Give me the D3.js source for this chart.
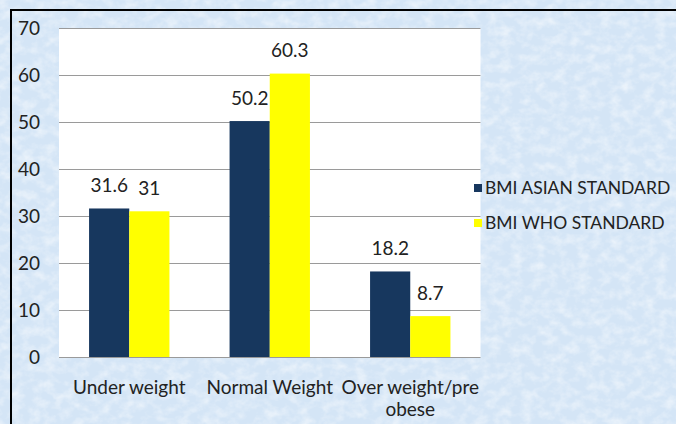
<!DOCTYPE html>
<html>
<head>
<meta charset="utf-8">
<script src="https://cdn.jsdelivr.net/npm/d3@7/dist/d3.min.js"></script>
<style>
  html, body { margin: 0; padding: 0; background: #ffffff; }
  svg { display: block; }
  text { font-family: Lato, "Open Sans", sans-serif; fill: #222222; }
</style>
</head>
<body>
<svg id="chart" width="676" height="424"></svg>
<script>
// BMI classification under two standards (percent of respondents)
const categories = [["Under weight"], ["Normal Weight"], ["Over weight/pre", "obese"]];
const seriesNames = ["BMI ASIAN STANDARD", "BMI WHO STANDARD"];
const asianValues = [31.6, 50.2, 18.2];
const whoValues = [31, 60.3, 8.7];
const yTicks = [0, 10, 20, 30, 40, 50, 60, 70];

const colors = ["#17375e", "#ffff00"];
const svg = d3.select("#chart");
const W = 676, H = 424;

// Mottled light-blue paper background
const defs = svg.append("defs");
const f = defs.append("filter").attr("id", "mottle")
  .attr("x", 0).attr("y", 0).attr("width", "100%").attr("height", "100%");
f.append("feTurbulence").attr("type", "fractalNoise")
  .attr("baseFrequency", "0.09 0.11").attr("numOctaves", 3).attr("seed", 11);
f.append("feColorMatrix").attr("type", "matrix")
  .attr("values", "0 0 0 0 1  0 0 0 0 1  0 0 0 0 1  1.8 0 0 0 -0.7");

svg.append("rect").attr("x", 0).attr("y", 0).attr("width", W).attr("height", H)
  .attr("fill", "#d4e5f6");
svg.append("rect").attr("x", 0).attr("y", 0).attr("width", W).attr("height", H)
  .attr("filter", "url(#mottle)").attr("opacity", 0.55);

// Chart frame (left and top edges visible)
svg.append("rect").attr("x", 11).attr("y", 10).attr("width", W + 10).attr("height", H + 10)
  .attr("fill", "none").attr("stroke", "#000").attr("stroke-width", 2);

const plot = { left: 59, right: 480.5, top: 28, bottom: 357 };

const x = d3.scaleBand()
  .domain(d3.range(categories.length))
  .range([plot.left, plot.right])
  .paddingInner(0.428)
  .paddingOuter(0.214);

const xs = d3.scaleBand().domain([0, 1]).range([0, x.bandwidth()]);

const y = d3.scaleLinear().domain([0, 70]).range([plot.bottom, plot.top]);

// Plot area
svg.append("rect")
  .attr("x", plot.left).attr("y", plot.top)
  .attr("width", plot.right - plot.left).attr("height", plot.bottom - plot.top)
  .attr("fill", "#ffffff");

// Gridlines
svg.append("g").selectAll("line").data(yTicks).join("line")
  .attr("x1", plot.left).attr("x2", plot.right)
  .attr("y1", d => Math.round(y(d)) + 0.5).attr("y2", d => Math.round(y(d)) + 0.5)
  .attr("stroke", "#9a9a9a").attr("stroke-width", 1);

// Y axis labels
svg.append("g").selectAll("text").data(yTicks).join("text")
  .attr("x", 40).attr("y", d => y(d))
  .attr("dy", "0.36em")
  .attr("text-anchor", "end")
  .style("font-size", "19px")
  .text(d => d);

// Bars
const series = [asianValues, whoValues];
series.forEach((vals, si) => {
  const g = svg.append("g");
  g.selectAll("rect").data(vals).join("rect")
    .attr("x", (d, i) => x(i) + xs(si))
    .attr("y", d => y(d))
    .attr("width", xs.bandwidth())
    .attr("height", d => y(0) - y(d))
    .attr("fill", colors[si]);
  g.selectAll("text").data(vals).join("text")
    .attr("x", (d, i) => x(i) + xs(si) + xs.bandwidth() / 2)
    .attr("y", d => y(d) - 16.5)
    .attr("text-anchor", "middle")
    .style("font-size", "19px")
    .text(d => d);
});

// Category labels
const cat = svg.append("g").selectAll("text").data(categories).join("text")
  .attr("x", (d, i) => x(i) + x.bandwidth() / 2)
  .attr("y", 394)
  .attr("text-anchor", "middle")
  .style("font-size", "19px");
cat.selectAll("tspan").data(d => d).join("tspan")
  .attr("x", function () { return this.parentNode.getAttribute("x"); })
  .attr("dy", (d, i) => i === 0 ? 0 : 22)
  .text(d => d);

// Legend
const legend = svg.append("g").selectAll("g").data(seriesNames).join("g")
  .attr("transform", (d, i) => `translate(474, ${188 + i * 35})`);
legend.append("rect").attr("x", 0).attr("y", -4).attr("width", 8).attr("height", 8)
  .attr("fill", (d, i) => colors[i]);
legend.append("text").attr("x", 11).attr("y", 0).attr("dy", "0.36em")
  .style("font-size", "17.5px")
  .text(d => d);
</script>
</body>
</html>
